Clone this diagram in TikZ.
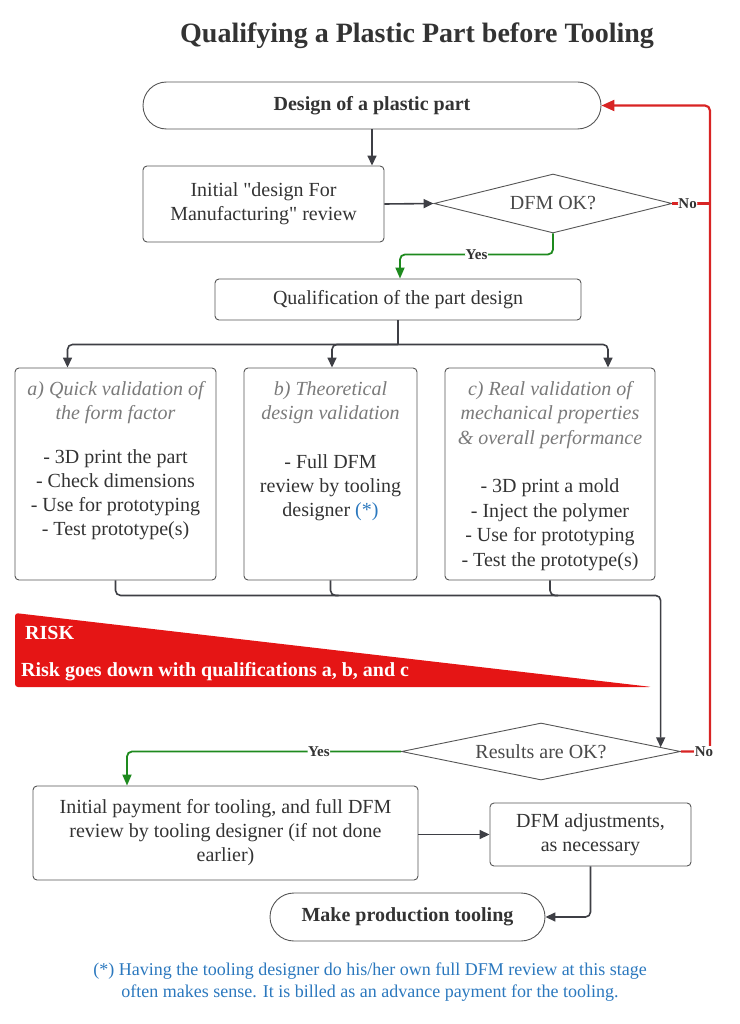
\documentclass[tikz,border=0pt]{standalone}
\usepackage{fontspec}
\setmainfont{Liberation Serif}
\usetikzlibrary{arrows.meta,shapes.geometric,shapes.misc,calc}
\newcommand\myquote{\XeTeXglyph\XeTeXcharglyph"22\relax}
\definecolor{txt}{HTML}{333333}
\definecolor{dtxt}{HTML}{4A4A4A}
\definecolor{hdr}{HTML}{7A7A7A}
\definecolor{bordc}{HTML}{555555}
\definecolor{linec}{HTML}{3E3F45}
\definecolor{gline}{HTML}{1E8A1E}
\definecolor{rline}{HTML}{D82424}
\definecolor{riskred}{HTML}{E51515}
\definecolor{fnote}{HTML}{2B78BE}
\tikzset{
  box/.style={draw=bordc, line width=0.9pt, rounded corners=4pt, inner sep=0pt, text=txt, align=center},
  pill/.style={draw=bordc, line width=0.9pt, rounded rectangle, inner sep=0pt, text=txt, font=\bfseries\fontsize{20}{24}\selectfont},
  dia/.style={draw=bordc, line width=0.9pt, diamond, aspect=4, inner sep=0pt, text=dtxt},
  btext/.style={inner sep=0pt, align=center, text=txt, anchor=north},
  conn/.style={draw=linec, line width=1.6pt, rounded corners=5pt, -{Triangle[length=10pt,width=9pt]}},
  plain/.style={draw=linec, line width=1.6pt, rounded corners=5pt},
  gconn/.style={draw=gline, line width=1.8pt, rounded corners=5pt, -{Triangle[length=11pt,width=9pt]}},
  rconn/.style={draw=rline, line width=2.2pt, rounded corners=5pt},
  lbl/.style={fill=white, inner sep=0.5pt, text=txt, font=\bfseries\fontsize{15}{16}\selectfont},
}
\begin{document}
\begin{tikzpicture}[x=1pt,y=-1pt,font=\fontsize{20}{24}\selectfont]
\useasboundingbox (0,0) rectangle (739,1024);

\node[text=txt, font=\bfseries\fontsize{28}{32}\selectfont] (title) at (417,36) {Qualifying a Plastic Part before Tooling};

\node[pill, minimum width=458pt, minimum height=47pt] (design) at (372,105.5) {Design of a plastic part};
\node[box, minimum width=241pt, minimum height=76pt] (init) at (263.5,204) {Initial \myquote design For\\Manufacturing\myquote{} review};
\node[dia, minimum width=238pt, minimum height=59pt] (dfm) at (553,203.5) {DFM OK?};
\node[box, minimum width=366pt, minimum height=41pt] (qual) at (398,299.5) {Qualification of the part design};

\node[box, minimum width=201pt, minimum height=212pt] (boxa) at (115.5,474) {};
\node[box, minimum width=173pt, minimum height=212pt] (boxb) at (330.5,474) {};
\node[box, minimum width=210pt, minimum height=212pt] (boxc) at (550,474) {};

\node[btext] (ta) at (115.5,381) {\textcolor{hdr}{\itshape a) Quick validation of}\\\textcolor{hdr}{\itshape the form factor}\\[20pt]- 3D print the part\\- Check dimensions\\- Use for prototyping\\- Test prototype(s)};
\node[btext] (tb) at (330.5,381) {\textcolor{hdr}{\itshape b) Theoretical}\\\textcolor{hdr}{\itshape design validation}\\[25pt]- Full DFM\\review by tooling\\designer \textcolor{fnote}{(*)}};
\node[btext, font=\fontsize{20}{24.5}\selectfont] (tc) at (550,381) {\textcolor{hdr}{\itshape c) Real validation of}\\\textcolor{hdr}{\itshape mechanical properties}\\\textcolor{hdr}{\itshape \& overall performance}\\[24pt]- 3D print a mold\\- Inject the polymer\\- Use for prototyping\\- Test the prototype(s)};

% risk triangle
\fill[riskred, rounded corners=3pt] (15,613) -- (652,687) -- (15,687) -- cycle;
\node[anchor=west, text=white, font=\bfseries\fontsize{20}{24}\selectfont, inner sep=0pt] (risk) at (25,633) {RISK};
\node[anchor=west, text=white, font=\bfseries\fontsize{20}{24}\selectfont, inner sep=0pt] (riskt) at (21,672) {Risk goes down with qualifications a, b, and c};

\node[dia, minimum width=279pt, minimum height=57pt] (res) at (541,751.5) {Results are OK?};
\node[box, minimum width=385pt, minimum height=94pt] (pay) at (225.5,833) {Initial payment for tooling, and full DFM\\review by tooling designer (if not done\\earlier)};
\node[box, minimum width=201pt, minimum height=63pt] (adj) at (590.5,834.5) {DFM adjustments,\\as necessary};
\node[pill, minimum width=275pt, minimum height=48pt] (prod) at (407.5,917) {Make production tooling};

\node[text=fnote, align=center, font=\fontsize{18}{22}\selectfont] (foot) at (370,982) {(*) Having the tooling designer do his/her own full DFM review at this stage\\often makes sense. It is billed as an advance payment for the tooling.};

% connectors
\draw[conn] (design.south) -- (init.north -| design.south);
\draw[conn] (init.east) -- (dfm.west);
\draw[gconn] (dfm.south) -- ++(0,21) -| node[lbl, pos=0.25]{Yes} ([xshift=2pt]qual.north);
\draw[rconn] (dfm.east) -- node[lbl, pos=0.4]{No} ++(38,0);
\draw[rconn, -{Triangle[length=13pt,width=11pt]}] (res.east) -- ++(29,0) |- (design.east);
\node[lbl] (no2) at (704,751.5) {No};

\draw[plain] (qual.south) -- ++(0,24) coordinate (br);
\draw[conn] (br) -| ([xshift=-48pt]boxa.north);
\draw[conn] (br) -| ([xshift=1.5pt]boxb.north);
\draw[conn] (br) -| ([xshift=58pt]boxc.north);

\coordinate (resin) at ($(res.east)!0.145!(res.north)$);
\draw[conn] (boxa.south) -- ++(0,15) -| (resin);
\draw[plain] (boxb.south) -- ++(0,15) -- ++(8,0);
\draw[plain] (boxc.south) -- ++(0,15) -- ++(8,0);

\draw[gconn] (res.west) -| node[lbl, pos=0.15]{Yes} ([xshift=-98.5pt]pay.north);
\draw[conn] (pay.east |- adj.west) -- (adj.west);
\draw[conn] (adj.south) |- (prod.east);
\end{tikzpicture}
\end{document}
